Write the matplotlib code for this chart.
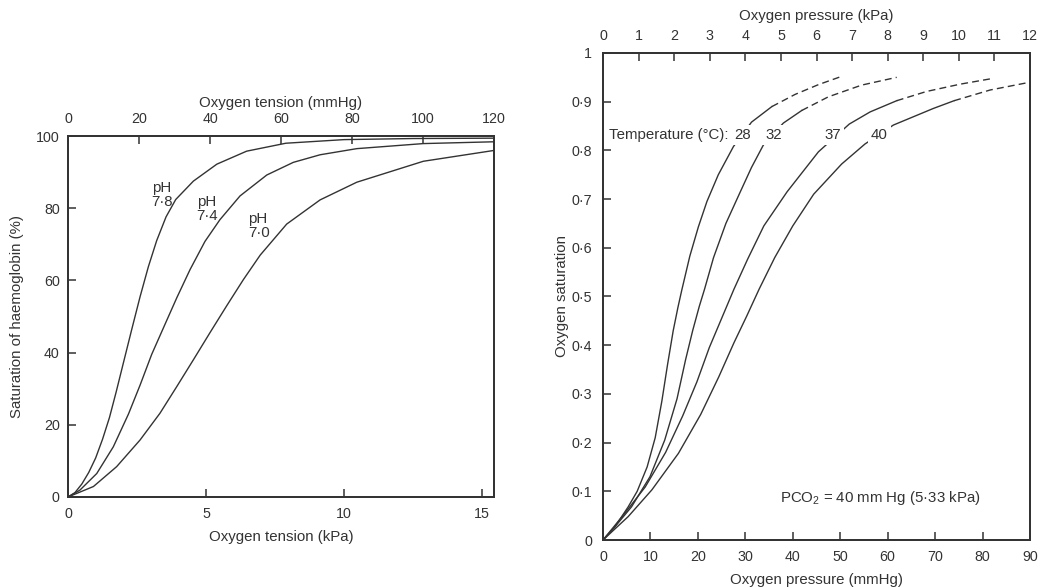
import matplotlib
matplotlib.use("Agg")
import matplotlib.pyplot as plt
from matplotlib.ticker import FixedLocator, FixedFormatter

plt.rcParams['font.family'] = ['Liberation Sans', 'DejaVu Sans']
plt.rcParams['mathtext.fontset'] = 'custom'
plt.rcParams['mathtext.rm'] = 'Liberation Sans'
plt.rcParams['mathtext.it'] = 'Liberation Sans'

INK = '#333333'

# ---------------- Left panel data (kPa, % saturation) ----------------
ph78_kpa = [0, 0.25, 0.5, 0.75, 1.0, 1.25, 1.5, 1.74, 2.0, 2.31, 2.61, 2.91, 3.21, 3.55, 3.9, 4.54, 5.39, 6.47, 7.89, 10.0, 12.5, 15.43]
ph78_sat = [0, 1.2, 3.6, 6.8, 10.8, 16.0, 22.0, 29.0, 37.0, 46.5, 55.5, 63.8, 71.0, 77.6, 82.4, 87.5, 92.2, 95.8, 98.0, 99.0, 99.3, 99.4]
ph74_kpa = [0, 0.43, 1.04, 1.64, 2.19, 2.61, 3.03, 3.51, 3.94, 4.42, 4.96, 5.5, 6.23, 7.20, 8.16, 9.13, 10.46, 12.87, 15.43]
ph74_sat = [0, 1.9, 6.5, 13.9, 23.0, 31.0, 39.5, 47.8, 55.2, 63.0, 70.8, 76.8, 83.4, 89.2, 92.7, 94.8, 96.5, 97.9, 98.4]
ph70_kpa = [0, 0.92, 1.76, 2.61, 3.33, 3.94, 4.54, 5.14, 5.75, 6.35, 6.96, 7.92, 9.13, 10.46, 12.87, 15.43]
ph70_sat = [0, 2.9, 8.4, 15.8, 23.2, 30.6, 38.0, 45.5, 53.0, 60.2, 67.0, 75.6, 82.3, 87.2, 93.0, 96.0]
ph_labels = ['pH\n7·8', 'pH\n7·4', 'pH\n7·0']
ph_label_x = [3.03, 4.66, 6.53]
ph_label_y = [83.7, 79.8, 75.1]

left_kpa_ticks = [0, 5, 10, 15]
left_mmhg_ticks = [0, 20, 40, 60, 80, 100, 120]
left_sat_ticks = [0, 20, 40, 60, 80, 100]

# ---------------- Right panel data (mmHg, fraction saturation) ----------------
t28_solid_x = [0, 2.5, 5.3, 7.2, 9.3, 11.0, 12.4, 13.6, 14.8, 15.8, 16.6, 18.3, 20.1, 21.9, 24.3, 27.5, 31.3, 35.6]
t28_solid_y = [0, 0.027, 0.068, 0.100, 0.150, 0.210, 0.285, 0.360, 0.430, 0.478, 0.513, 0.583, 0.643, 0.695, 0.750, 0.808, 0.858, 0.890]
t28_dash_x = [35.6, 40.5, 45.4, 50.0]
t28_dash_y = [0.890, 0.915, 0.935, 0.951]

t32_solid_x = [0, 2.5, 6.0, 9.9, 13.0, 15.6, 17.4, 18.9, 20.3, 21.4, 23.3, 25.9, 28.8, 31.3, 33.8, 38.0, 41.9]
t32_solid_y = [0, 0.027, 0.068, 0.130, 0.205, 0.290, 0.370, 0.430, 0.480, 0.515, 0.580, 0.650, 0.712, 0.765, 0.811, 0.856, 0.882]
t32_dash_x = [41.9, 47.5, 54.5, 61.9]
t32_dash_y = [0.882, 0.910, 0.934, 0.950]

t37_solid_x = [0, 4.6, 8.9, 13.2, 16.8, 19.8, 22.4, 25.0, 27.6, 30.5, 33.9, 38.8, 45.4, 51.9, 56.3, 61.9]
t37_solid_y = [0, 0.055, 0.109, 0.180, 0.255, 0.325, 0.395, 0.455, 0.515, 0.577, 0.645, 0.715, 0.797, 0.854, 0.879, 0.902]
t37_dash_x = [61.9, 68.2, 75.3, 82.3]
t37_dash_y = [0.902, 0.921, 0.936, 0.948]

t40_solid_x = [0, 5.3, 10.3, 15.9, 20.6, 24.4, 27.6, 30.3, 32.9, 36.2, 40.0, 44.4, 50.3, 55.2, 61.2, 69.6, 74.0]
t40_solid_y = [0, 0.048, 0.103, 0.178, 0.258, 0.335, 0.405, 0.460, 0.515, 0.580, 0.645, 0.710, 0.772, 0.813, 0.852, 0.886, 0.902]
t40_dash_x = [74.0, 81.6, 90.0]
t40_dash_y = [0.902, 0.924, 0.940]

temp_labels = ['28', '32', '37', '40']
temp_label_x = [29.4, 35.9, 48.5, 58.2]
temp_label_y = 0.832

right_mmhg_ticks = [0, 10, 20, 30, 40, 50, 60, 70, 80, 90]
right_kpa_ticks = list(range(0, 13))
right_sat_ticks = [0, 0.1, 0.2, 0.3, 0.4, 0.5, 0.6, 0.7, 0.8, 0.9, 1.0]
right_sat_ticklabels = ['0', '0·1', '0·2', '0·3', '0·4', '0·5', '0·6', '0·7', '0·8', '0·9', '1']

FS = 10.8
TFS = 10.3

fig = plt.figure(figsize=(10.42, 5.88), dpi=100)


def style_axes(ax):
    for s in ax.spines.values():
        s.set_color(INK)
        s.set_linewidth(1.3)
    ax.tick_params(direction='in', length=6, width=1.1, color=INK,
                   labelcolor=INK, labelsize=TFS)


# ---------------- Left panel ----------------
axL = fig.add_axes([0.0653, 0.1548, 0.4088, 0.6139])
style_axes(axL)
for xs, ys in [(ph78_kpa, ph78_sat), (ph74_kpa, ph74_sat), (ph70_kpa, ph70_sat)]:
    axL.plot(xs, ys, color=INK, lw=1.0)
axL.set_xlim(0, 15.43)
axL.set_ylim(0, 100)
axL.set_xticks(left_kpa_ticks)
axL.set_yticks(left_sat_ticks)
axL.tick_params(axis='x', pad=7)
axL.tick_params(axis='y', pad=6)
axL.set_xlabel('Oxygen tension (kPa)', fontsize=FS, color=INK)
axL.xaxis.label.set_va('center')
axL.xaxis.set_label_coords(0.5, -0.111)
axL.set_ylabel('Saturation of haemoglobin (%)', fontsize=FS, color=INK)
axL.yaxis.label.set_va('center')
axL.yaxis.set_label_coords(-0.12, 0.5)
for lab, x, y in zip(ph_labels, ph_label_x, ph_label_y):
    axL.text(x, y, lab, fontsize=FS, color=INK, ha='left', va='center',
             linespacing=1.05)

axLt = axL.twiny()
style_axes(axLt)
axLt.set_xlim(0, 120)
axLt.set_xticks(left_mmhg_ticks)
axLt.tick_params(axis='x', pad=7)
axLt.set_xlabel('Oxygen tension (mmHg)', fontsize=FS, color=INK)
axLt.xaxis.label.set_va('center')
axLt.xaxis.set_label_coords(0.5, 1.091)

# ---------------- Right panel ----------------
axR = fig.add_axes([0.5787, 0.0816, 0.4098, 0.8283])
style_axes(axR)
solid_sets = [(t28_solid_x, t28_solid_y), (t32_solid_x, t32_solid_y),
              (t37_solid_x, t37_solid_y), (t40_solid_x, t40_solid_y)]
dash_sets = [(t28_dash_x, t28_dash_y), (t32_dash_x, t32_dash_y),
             (t37_dash_x, t37_dash_y), (t40_dash_x, t40_dash_y)]
for xs, ys in solid_sets:
    axR.plot(xs, ys, color=INK, lw=1.0)
for xs, ys in dash_sets:
    axR.plot(xs, ys, color=INK, lw=1.0, ls=(0, (5, 3)))
axR.set_xlim(0, 90)
axR.set_ylim(0, 1)
axR.set_xticks(right_mmhg_ticks)
axR.yaxis.set_major_locator(FixedLocator(right_sat_ticks))
axR.yaxis.set_major_formatter(FixedFormatter(right_sat_ticklabels))
axR.tick_params(axis='x', pad=7)
axR.tick_params(axis='y', pad=8)
axR.set_xlabel('Oxygen pressure (mmHg)', fontsize=FS, color=INK)
axR.xaxis.label.set_va('center')
axR.xaxis.set_label_coords(0.5, -0.082)
axR.set_ylabel('Oxygen saturation', fontsize=FS, color=INK)
axR.yaxis.label.set_va('center')
axR.yaxis.set_label_coords(-0.097, 0.5)

axR.text(1.3, temp_label_y, 'Temperature (°C):', fontsize=FS, color=INK,
         ha='left', va='center', zorder=5)
for lab, x in zip(temp_labels, temp_label_x):
    axR.text(x, temp_label_y, lab, fontsize=FS, color=INK, ha='center',
             va='center', zorder=5,
             bbox=dict(boxstyle='square,pad=0.2', fc='white', ec='none'))
axR.text(37.3, 0.086, r'PCO$_2$ = 40 mm Hg (5·33 kPa)', fontsize=FS,
         color=INK, ha='left', va='center')

axRt = axR.twiny()
style_axes(axRt)
axRt.set_xlim(0, 12)
axRt.set_xticks(right_kpa_ticks)
axRt.tick_params(axis='x', pad=7)
axRt.set_xlabel('Oxygen pressure (kPa)', fontsize=FS, color=INK)
axRt.xaxis.label.set_va('center')
axRt.xaxis.set_label_coords(0.5, 1.076)

fig.savefig('out.png', dpi=100, facecolor='white')
